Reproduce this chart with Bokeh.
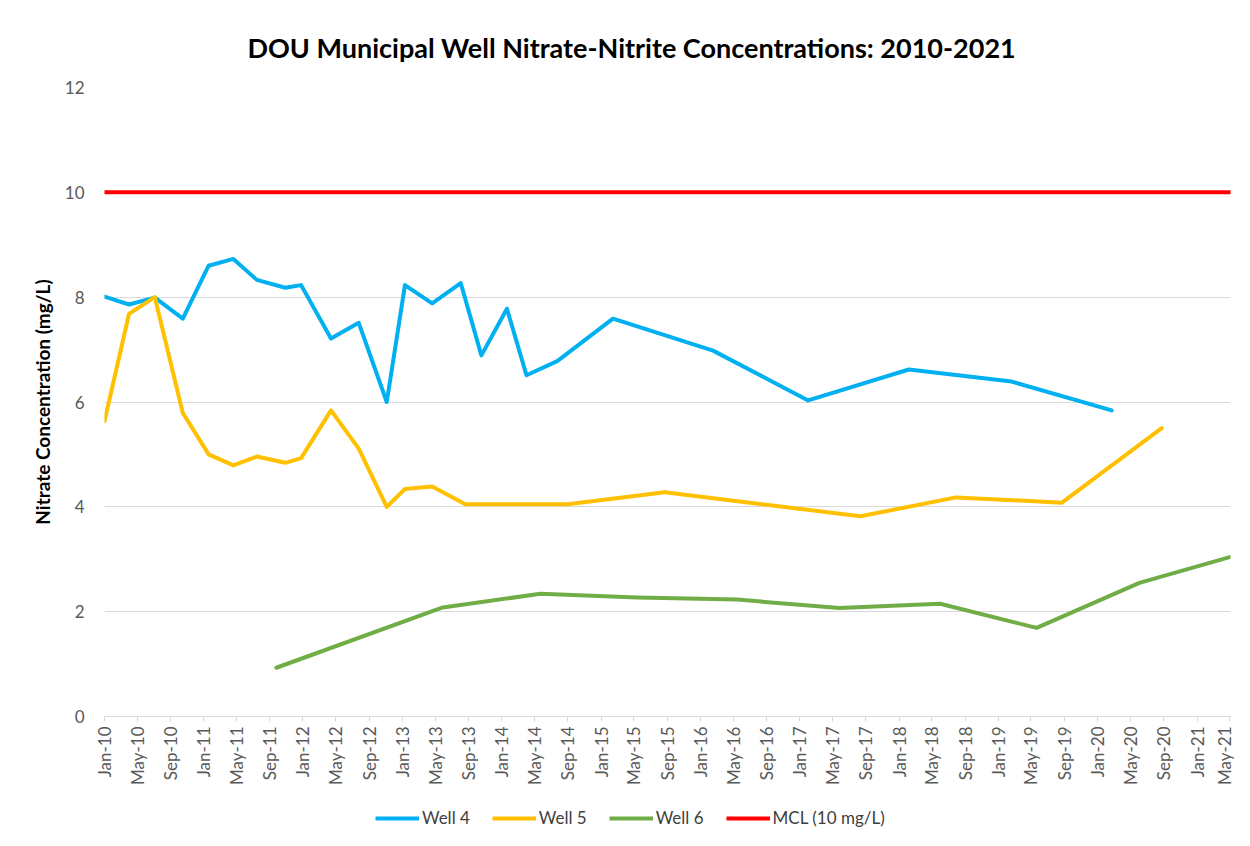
import math
import pandas as pd
from bokeh.plotting import figure
from bokeh.layouts import column
from bokeh.models import (FixedTicker, DatetimeTickFormatter, Range1d, Legend,
                          LegendItem, Title, ColumnDataSource)
from bokeh.embed import file_html
from bokeh.resources import INLINE

# ---------------- data ----------------
well4_dates = ["2010-01-01", "2010-04-01", "2010-07-05", "2010-10-16", "2011-01-19",
               "2011-04-20", "2011-07-15", "2011-10-28", "2011-12-25", "2012-04-13",
               "2012-07-24", "2012-11-04", "2013-01-10", "2013-04-20", "2013-08-03",
               "2013-10-18", "2014-01-20", "2014-04-02", "2014-07-24", "2015-02-14",
               "2016-02-17", "2017-02-01", "2018-02-06", "2019-02-19", "2020-02-22"]
well4_values = [8.01, 7.86, 7.99, 7.59, 8.60, 8.73, 8.33, 8.18, 8.23, 7.21,
                7.51, 6.00, 8.23, 7.88, 8.27, 6.89, 7.78, 6.51, 6.78, 7.59,
                6.98, 6.03, 6.62, 6.39, 5.84]

well5_dates = ["2010-01-01", "2010-04-01", "2010-07-05", "2010-10-16", "2011-01-19",
               "2011-04-20", "2011-07-15", "2011-10-28", "2011-12-25", "2012-04-13",
               "2012-07-24", "2012-11-04", "2013-01-10", "2013-04-20", "2013-08-20",
               "2014-09-01", "2015-08-23", "2016-08-15", "2017-08-12", "2018-07-30",
               "2019-08-23", "2020-08-24"]
well5_values = [5.63, 7.68, 8.00, 5.79, 5.00, 4.79, 4.96, 4.84, 4.93, 5.84,
                5.11, 4.00, 4.34, 4.39, 4.05, 4.05, 4.28, 4.05, 3.82, 4.18,
                4.08, 5.50]

well6_dates = ["2011-09-25", "2013-05-29", "2014-05-23", "2015-05-14", "2016-05-16",
               "2017-05-27", "2018-06-01", "2019-05-22", "2020-06-03", "2021-05-01"]
well6_values = [0.93, 2.08, 2.34, 2.27, 2.23, 2.07, 2.15, 1.69, 2.55, 3.04]

mcl_dates = ["2010-01-01", "2021-05-04"]
mcl_values = [10, 10]

series_names = ["Well 4", "Well 5", "Well 6", "MCL (10 mg/L)"]
series_colors = ["#00B0F0", "#FFC000", "#70AD47", "#FF0000"]

y_ticks = [0, 2, 4, 6, 8, 10, 12]
x_tick_dates = pd.date_range(start="2010-01-01", end="2021-05-01", freq="4MS")

# ---------------- main figure ----------------
W = 1234
H_MAIN = 790
H_LEG = 40
x_range = Range1d(pd.Timestamp("2010-01-01"), pd.Timestamp(mcl_dates[-1]))
p = figure(width=W, height=H_MAIN, output_backend="svg", toolbar_location=None,
           x_axis_type="datetime", x_range=x_range,
           y_range=Range1d(0, 12),
           min_border_left=104, min_border_right=4, min_border_top=87,
           min_border_bottom=H_MAIN - 716)
p.outline_line_color = None
p.background_fill_color = "white"
p.border_fill_color = "white"

FONT = "Lato"
GREY = "#595959"

# title
ttl = Title(text="DOU Municipal Well Nitrate-Nitrite Concentrations: 2010-2021",
            text_font=FONT, text_font_style="bold", text_font_size="27px",
            text_color="black", align="left", offset=143, standoff=47)
p.add_layout(ttl, "above")

# axes
p.xaxis.ticker = FixedTicker(ticks=[t.timestamp() * 1000 for t in x_tick_dates])
p.xaxis.formatter = DatetimeTickFormatter(days="%b-%y", months="%b-%y", years="%b-%y",
                                          hours="%b-%y", minutes="%b-%y")
p.xaxis.major_label_orientation = math.pi / 2
p.xaxis.major_label_text_font = FONT
p.xaxis.major_label_text_font_size = "17px"
p.xaxis.major_label_text_color = GREY
p.xaxis.major_label_standoff = 5
p.xaxis.axis_line_color = "#D9D9D9"
p.xaxis.major_tick_line_color = "#D9D9D9"
p.xaxis.major_tick_out = 5
p.xaxis.major_tick_in = 0
p.xaxis.minor_tick_line_color = None

p.yaxis.ticker = FixedTicker(ticks=y_ticks)
p.yaxis.major_label_text_font = FONT
p.yaxis.major_label_text_font_size = "17px"
p.yaxis.major_label_text_color = GREY
p.yaxis.major_label_standoff = 14
p.yaxis.axis_line_color = None
p.yaxis.major_tick_line_color = None
p.yaxis.minor_tick_line_color = None
p.yaxis.axis_label = "Nitrate Concentration (mg/L)"
p.yaxis.axis_label_text_font = FONT
p.yaxis.axis_label_text_font_style = "bold"
p.yaxis.axis_label_text_font_size = "19px"
p.yaxis.axis_label_text_color = "black"
p.yaxis.axis_label_standoff = 8

p.xgrid.grid_line_color = None
p.ygrid.grid_line_color = "#D9D9D9"
p.ygrid.grid_line_width = 1

# lines
sources = []
for dates, vals, color in [(well4_dates, well4_values, series_colors[0]),
                           (well5_dates, well5_values, series_colors[1]),
                           (well6_dates, well6_values, series_colors[2]),
                           (mcl_dates, mcl_values, series_colors[3])]:
    src = ColumnDataSource(dict(x=pd.to_datetime(dates), y=vals))
    sources.append(src)
    p.line("x", "y", source=src, line_color=color, line_width=4,
           line_join="round", line_cap="round")

# ---------------- legend strip ----------------
# same series drawn again in a strip whose y-range lies above the data,
# so only the legend entries show
lf = figure(width=W, height=H_LEG, output_backend="svg", toolbar_location=None,
            x_axis_type="datetime", x_range=x_range, y_range=Range1d(100, 101),
            min_border_left=104, min_border_right=4,
            min_border_top=0, min_border_bottom=0)
lf.xaxis.visible = False
lf.yaxis.visible = False
lf.xgrid.visible = False
lf.ygrid.visible = False
lf.outline_line_color = None
lf.border_fill_color = "white"
lf.background_fill_color = "white"
leg_renderers = []
for src, color in zip(sources, series_colors):
    r = lf.line("x", "y", source=src, line_color=color, line_width=4)
    leg_renderers.append(r)

legend = Legend(items=[LegendItem(label=n, renderers=[r]) for n, r in zip(series_names, leg_renderers)],
                orientation="horizontal", location=(271, 2),
                glyph_width=44, glyph_height=20, label_standoff=3, spacing=22,
                padding=0, margin=0, border_line_color=None,
                background_fill_alpha=0,
                label_text_font=FONT, label_text_font_size="17px",
                label_text_color="#404040")
lf.add_layout(legend, "center")

layout = column(p, lf, spacing=0)
open("out.html", "w").write(file_html(layout, INLINE))
